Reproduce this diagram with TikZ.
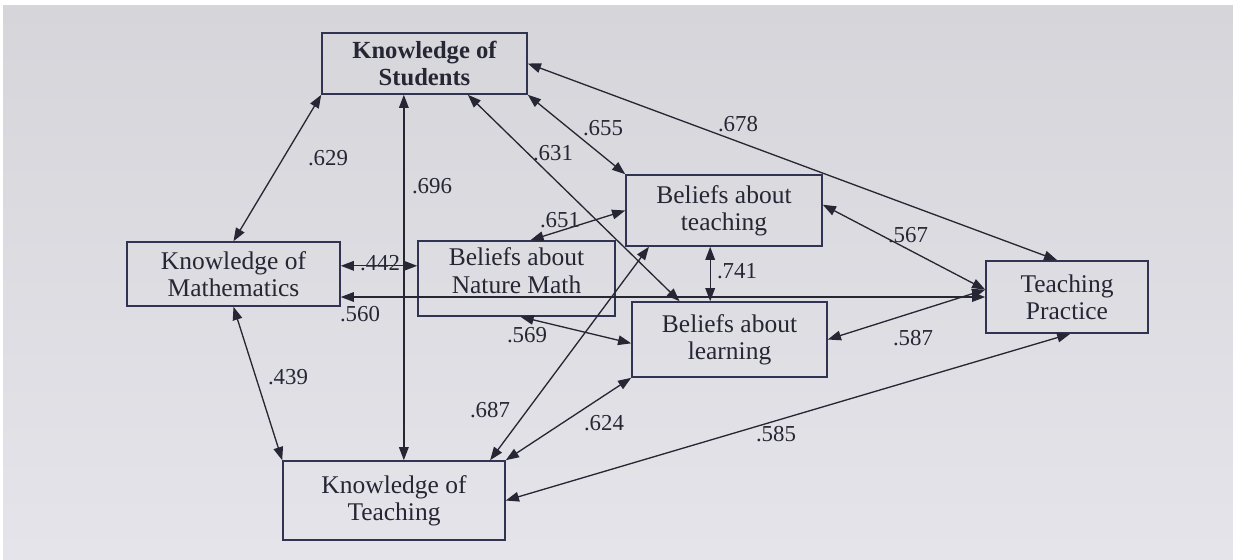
\documentclass[tikz,border=0pt]{standalone}
\usepackage{fontspec}
\setmainfont{Liberation Serif}
\usetikzlibrary{calc,arrows.meta}
\definecolor{bgmid}{RGB}{230,230,233}
\definecolor{bgtop}{RGB}{214,213,218}
\definecolor{bgbot}{RGB}{228,228,234}
\definecolor{ink}{RGB}{38,38,52}
\definecolor{boxline}{RGB}{48,52,82}
\tikzset{
  box/.style={draw=boxline, line width=0.9pt, inner sep=0pt, align=center,
    text=ink, font=\fontsize{14.5}{15.5}\selectfont},
  conn/.style={draw=ink, line width=0.75pt,
    {Triangle[length=7.5pt,width=5.5pt]}-{Triangle[length=7.5pt,width=5.5pt]}},
  lbl/.style={text=ink, font=\fontsize{13}{14}\selectfont, inner sep=0pt}
}
\begin{document}
\begin{tikzpicture}[x=0.02cm,y=-0.02cm]
\useasboundingbox (0,0) rectangle (1233,559);
\fill[white] (0,0) rectangle (1233,559);
\shade[top color=bgtop, middle color=bgmid, bottom color=bgbot] (3,5) rectangle (1233,559);

% boxes
\node[box, minimum width=4.1cm, minimum height=1.22cm, font=\bfseries\fontsize{14}{15.3}\selectfont] (KS) at (424.5,63.5) {Knowledge of\\Students};
\node[box, minimum width=4.26cm, minimum height=1.28cm] (KM) at (233.5,274) {Knowledge of\\Mathematics};
\node[box, minimum width=3.94cm, minimum height=1.5cm] (BN) at (516.5,278.5) {Beliefs about\\Nature Math\rule[-9pt]{0pt}{9pt}};
\node[box, minimum width=3.92cm, minimum height=1.42cm] (BT) at (724,210.5) {Beliefs about\\teaching};
\node[box, minimum width=3.9cm, minimum height=1.5cm] (BL) at (729.5,339.5) {Beliefs about\\learning};
\node[box, minimum width=3.24cm, minimum height=1.44cm] (TP) at (1067,297) {Teaching\\Practice};
\node[box, minimum width=4.44cm, minimum height=1.58cm] (KT) at (394,500.5) {Knowledge of\\Teaching};

% helper coordinates
\coordinate (ksv) at ($(KS.south west)!0.4!(KS.south east)$);
\coordinate (tpl) at ($(TP.north west)!0.4!(TP.south west)$);
\coordinate (btv) at ($(BT.south west)!0.43!(BT.south east)$);
\coordinate (kmr) at ($(KM.north east)!0.375!(KM.south east)$);

% connectors
\draw[conn] (KS.south west) -- (KM.north);
\draw[conn] (ksv) -- (KT.north -| ksv);
\draw[conn] ($(KS.south west)!0.71!(KS.south east)$) -- ($(BL.north west)!0.246!(BL.north east)$);
\draw[conn] (KS.south east) -- (BT.north west);
\draw[conn] (KS.east) -- ($(TP.north west)!0.44!(TP.north east)$);
\draw[conn] ($(BN.north west)!0.57!(BN.north east)$) -- (BT.west);
\draw[conn] (kmr) -- (BN.west |- kmr);
\draw[conn] (KM.east |- TP.west) -- (TP.west);
\draw[conn] (KM.south) -- (KT.north west);
\draw[conn] ($(BN.south west)!0.52!(BN.south east)$) -- ($(BL.north west)!0.55!(BL.south west)$);
\draw[conn] ($(BT.south west)!0.12!(BT.south east)$) -- ($(KT.north west)!0.93!(KT.north east)$);
\draw[conn] (BL.south west) -- (KT.north east);
\draw[conn] (btv) -- (BL.north -| btv);
\draw[conn] ($(BT.north east)!0.42!(BT.south east)$) -- (tpl);
\draw[conn] (BL.east) -- (tpl);
\draw[conn] (KT.east) -- ($(TP.south west)!0.52!(TP.south east)$);

% labels
\node[lbl] (l629) at (328,158) {.629};
\node[lbl] (l696) at (432,186) {.696};
\node[lbl] (l631) at (553,153) {.631};
\node[lbl] (l655) at (603,128) {.655};
\node[lbl] (l678) at (738,124) {.678};
\node[lbl] (l651) at (560,220) {.651};
\node[lbl] (l442) at (380,263) {.442};
\node[lbl] (l560) at (360,314) {.560};
\node[lbl] (l439) at (288,377) {.439};
\node[lbl] (l569) at (527,335) {.569};
\node[lbl] (l687) at (490,410) {.687};
\node[lbl] (l624) at (604,423) {.624};
\node[lbl] (l741) at (737,271) {.741};
\node[lbl] (l567) at (908,235) {.567};
\node[lbl] (l587) at (913,338) {.587};
\node[lbl] (l585) at (776,434) {.585};
\end{tikzpicture}
\end{document}
